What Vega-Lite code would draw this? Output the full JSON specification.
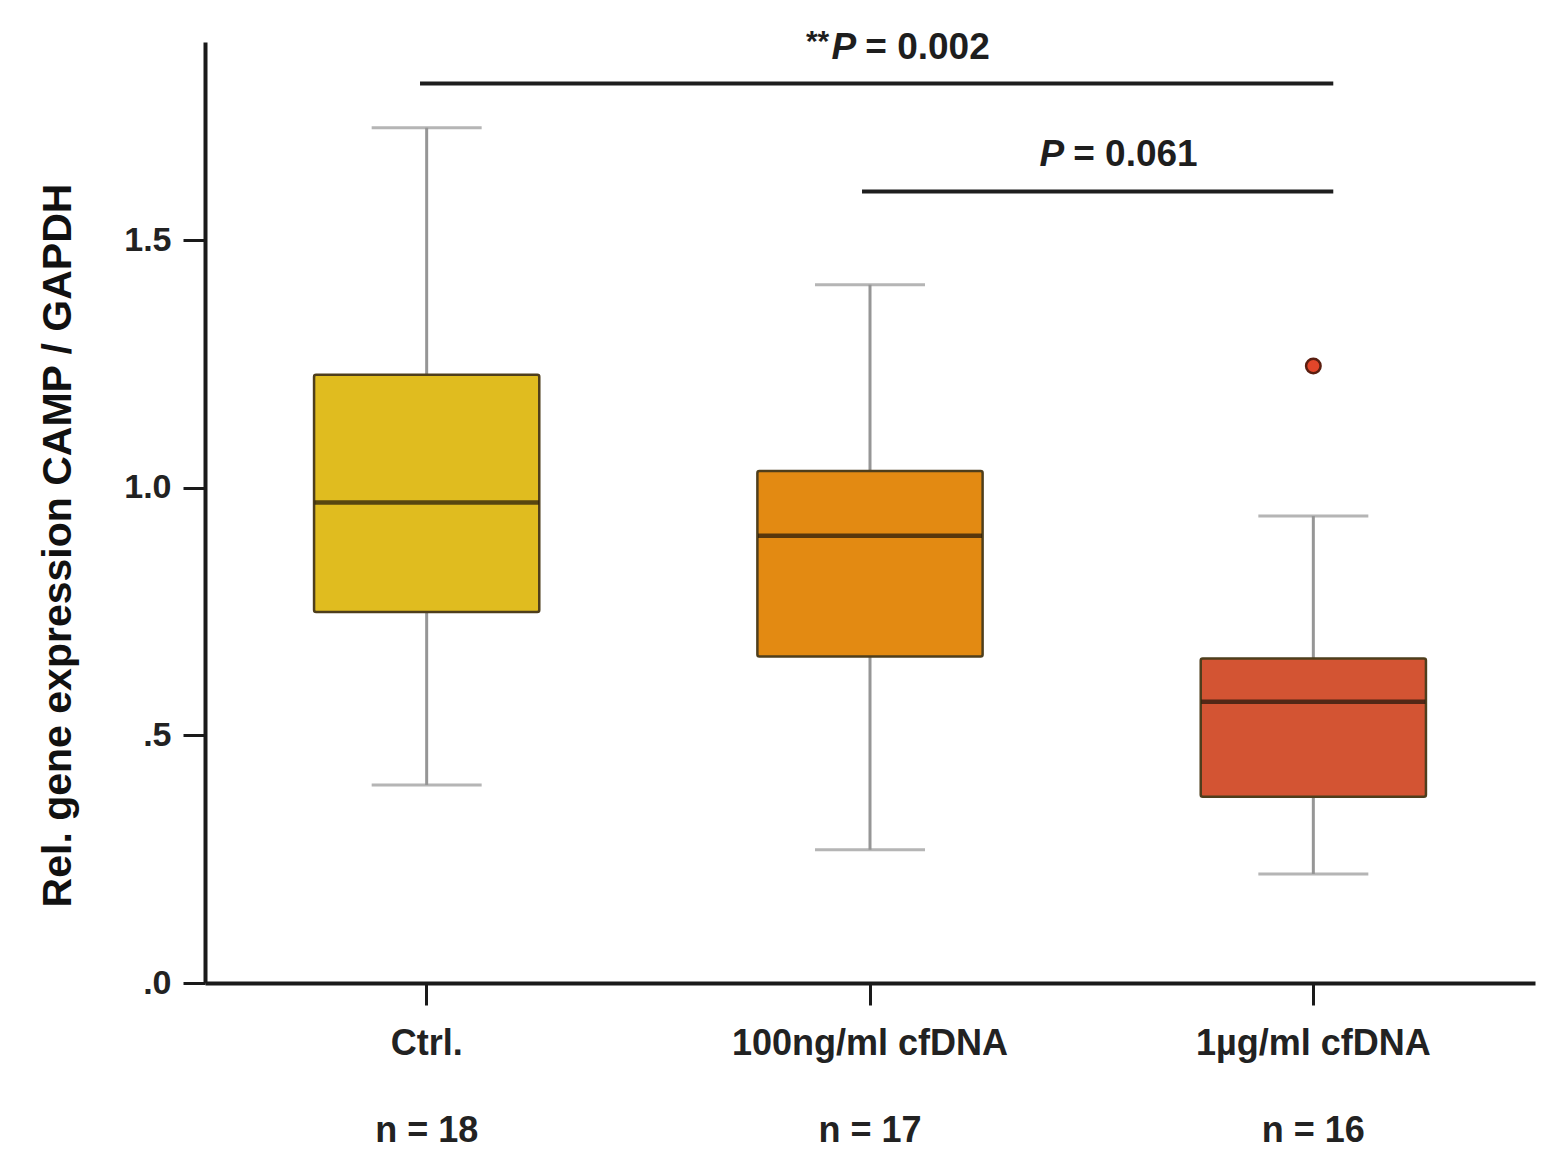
{
  "$schema": "https://vega.github.io/schema/vega-lite/v6.json",
  "autosize": "none",
  "width": 1330,
  "height": 941,
  "padding": {"left": 205, "top": 42, "right": 20, "bottom": 179},
  "background": "white",
  "config": {
    "view": {"stroke": null},
    "font": "Liberation Sans",
    "axis": {
      "labelFont": "Liberation Sans",
      "labelFontWeight": "bold",
      "labelColor": "#222",
      "labelLimit": 0,
      "titleFont": "Liberation Sans",
      "titleFontWeight": "bold",
      "titleColor": "#111",
      "domainColor": "#1a1a1a",
      "domainWidth": 4,
      "tickColor": "#1a1a1a",
      "tickWidth": 3,
      "tickSize": 22,
      "grid": false
    }
  },
  "datasets": {
    "boxes": [
      {"group": "Ctrl.", "lower": 0.40, "q1": 0.749, "median": 0.970, "q3": 1.228, "upper": 1.727},
      {"group": "100ng/ml cfDNA", "lower": 0.269, "q1": 0.659, "median": 0.903, "q3": 1.034, "upper": 1.410},
      {"group": "1µg/ml cfDNA", "lower": 0.220, "q1": 0.376, "median": 0.568, "q3": 0.655, "upper": 0.943}
    ],
    "outliers": [
      {"group": "1µg/ml cfDNA", "value": 1.246}
    ],
    "sig": [
      {"from": 0.485, "to": 2.545, "level": 1.816, "anchor": 1.469, "labelY": 1.887, "stars": "**", "p": "P", "rest": "= 0.002"},
      {"from": 1.482, "to": 2.545, "level": 1.598, "anchor": 1.938, "labelY": 1.672, "stars": "", "p": "P", "rest": "= 0.061"}
    ]
  },
  "layer": [
    {
      "layer": [
        {
          "data": {"name": "boxes"},
          "mark": {"type": "rule", "color": "#969696", "strokeWidth": 3},
          "encoding": {
            "x": {
              "field": "group",
              "type": "nominal",
              "sort": null,
              "scale": {"domain": ["Ctrl.", "100ng/ml cfDNA", "1µg/ml cfDNA"], "paddingInner": 0, "paddingOuter": 0},
              "axis": {
                "title": null,
                "labelAngle": 0,
                "labelFontSize": 36,
                "labelPadding": 21,
                "labelLineHeight": 87,
                "labelBaseline": "top",
                "labelExpr": "[datum.label, datum.label == 'Ctrl.' ? 'n = 18' : datum.label == '100ng/ml cfDNA' ? 'n = 17' : 'n = 16']"
              }
            },
            "y": {
              "field": "lower",
              "type": "quantitative",
              "scale": {"domain": [0, 1.9], "nice": false, "zero": true},
              "axis": {
                "title": "Rel. gene expression CAMP / GAPDH",
                "titleFontSize": 41,
                "titlePadding": 44,
                "titleY": 503,
                "labelFontSize": 34,
                "labelPadding": 12,
                "values": [0, 0.5, 1, 1.5],
                "labelExpr": "datum.value == 0 ? '.0' : datum.value == 0.5 ? '.5' : format(datum.value, '.1f')"
              }
            },
            "y2": {"field": "upper"}
          }
        },
        {
          "data": {"name": "boxes"},
          "mark": {"type": "tick", "color": "#969696", "thickness": 3, "size": 110},
          "encoding": {
            "x": {"field": "group", "type": "nominal", "sort": null},
            "y": {"field": "upper", "type": "quantitative"}
          }
        },
        {
          "data": {"name": "boxes"},
          "mark": {"type": "tick", "color": "#969696", "thickness": 3, "size": 110},
          "encoding": {
            "x": {"field": "group", "type": "nominal", "sort": null},
            "y": {"field": "lower", "type": "quantitative"}
          }
        },
        {
          "data": {"name": "boxes"},
          "mark": {"type": "bar", "width": {"band": 0.508}, "stroke": "#4e3e1c", "strokeWidth": 2.5, "cornerRadius": 2},
          "encoding": {
            "x": {"field": "group", "type": "nominal", "sort": null},
            "y": {"field": "q1", "type": "quantitative"},
            "y2": {"field": "q3"},
            "color": {
              "field": "group",
              "type": "nominal",
              "scale": {"domain": ["Ctrl.", "100ng/ml cfDNA", "1µg/ml cfDNA"], "range": ["#E0BC1F", "#E38A12", "#D35433"]},
              "legend": null
            }
          }
        },
        {
          "data": {"name": "boxes"},
          "mark": {"type": "tick", "color": "#1c140a", "thickness": 4.5, "size": 224},
          "encoding": {
            "x": {"field": "group", "type": "nominal", "sort": null},
            "y": {"field": "median", "type": "quantitative"}
          }
        },
        {
          "data": {"name": "outliers"},
          "mark": {"type": "point", "filled": true, "fill": "#E2462A", "stroke": "#5a1e10", "strokeWidth": 2.5, "size": 210, "opacity": 1},
          "encoding": {
            "x": {"field": "group", "type": "nominal", "sort": null},
            "y": {"field": "value", "type": "quantitative"}
          }
        }
      ]
    },
    {
      "data": {"name": "sig"},
      "encoding": {
        "x": {"field": "from", "type": "quantitative", "scale": {"domain": [0, 3], "nice": false, "zero": false}, "axis": null}
      },
      "layer": [
        {
          "mark": {"type": "rule", "color": "#1e1e1e", "strokeWidth": 4},
          "encoding": {
            "x2": {"field": "to"},
            "y": {"field": "level", "type": "quantitative"}
          }
        },
        {
          "mark": {"type": "text", "align": "right", "baseline": "middle", "fontSize": 37, "fontWeight": "bold", "fontStyle": "italic", "color": "#1e1e1e"},
          "encoding": {
            "x": {"field": "anchor", "type": "quantitative", "scale": {"domain": [0, 3], "nice": false, "zero": false}, "axis": null},
            "y": {"field": "labelY", "type": "quantitative"},
            "text": {"field": "p"}
          }
        },
        {
          "mark": {"type": "text", "align": "left", "baseline": "middle", "fontSize": 37, "fontWeight": "bold", "dx": 9, "color": "#1e1e1e"},
          "encoding": {
            "x": {"field": "anchor", "type": "quantitative", "scale": {"domain": [0, 3], "nice": false, "zero": false}, "axis": null},
            "y": {"field": "labelY", "type": "quantitative"},
            "text": {"field": "rest"}
          }
        },
        {
          "mark": {"type": "text", "align": "right", "baseline": "middle", "fontSize": 30, "fontWeight": "bold", "dx": -27, "dy": -6, "color": "#1e1e1e"},
          "encoding": {
            "x": {"field": "anchor", "type": "quantitative", "scale": {"domain": [0, 3], "nice": false, "zero": false}, "axis": null},
            "y": {"field": "labelY", "type": "quantitative"},
            "text": {"field": "stars"}
          }
        }
      ]
    }
  ],
  "resolve": {"scale": {"x": "independent"}}
}
